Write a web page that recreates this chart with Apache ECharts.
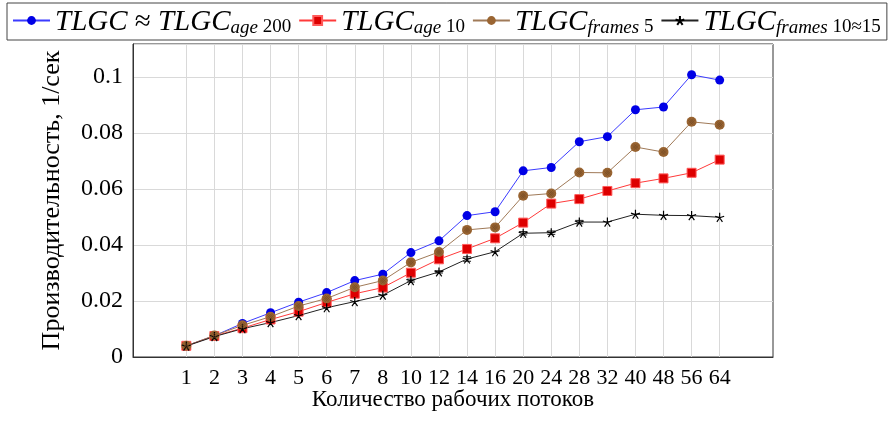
<!DOCTYPE html>
<html>
<head>
<meta charset="utf-8">
<script src="https://cdn.jsdelivr.net/npm/echarts@6/dist/echarts.min.js"></script>
<style>html,body{margin:0;padding:0;background:#fff}#c{width:888px;height:425px}</style>
</head>
<body>
<div id="c"></div>
<script>
const categories = ['1','2','3','4','5','6','7','8','10','12','14','16','20','24','28','32','40','48','56','64'];
const tlgcAge200 = [0.0040,0.0076,0.0120,0.0158,0.0196,0.0230,0.0273,0.0296,0.0373,0.0415,0.0505,0.0519,0.0665,0.0677,0.0769,0.0787,0.0883,0.0893,0.1008,0.0989];
const tlgcAge10 = [0.0040,0.0075,0.0103,0.0134,0.0162,0.0195,0.0226,0.0248,0.0301,0.0349,0.0386,0.0424,0.0480,0.0548,0.0564,0.0593,0.0621,0.0638,0.0658,0.0705];
const tlgcFrames5 = [0.0040,0.0077,0.0113,0.0144,0.0182,0.0209,0.0249,0.0273,0.0338,0.0375,0.0454,0.0463,0.0576,0.0584,0.0659,0.0658,0.0750,0.0732,0.0840,0.0830];
const tlgcFrames1015 = [0.0039,0.0073,0.0101,0.0123,0.0148,0.0176,0.0198,0.0221,0.0273,0.0304,0.0350,0.0376,0.0442,0.0444,0.0482,0.0482,0.0510,0.0506,0.0505,0.0499];
const errAge10 = [0,0,0,0,0,0,0,0,0,0,0,0,0,0,0,0.0005,0,0.0004,0.0013,0.0005];
const errFrames1015 = [0,0,0,0,0,0,0,0,0.0005,0.0004,0.0008,0,0.0006,0.0006,0.0006,0,0,0,0,0];
const yTicks = [0,0.02,0.04,0.06,0.08,0.1];
const seriesNames = ['age200','age10','frames5','frames1015'];

const SERIF = '"Liberation Serif", "DejaVu Serif", serif';
const toPts = arr => arr.map((v,i)=>[i,v]);
const starPath5 = 'path://M0,0L0,-5M0,0L4.76,-1.55M0,0L2.94,4.05M0,0L-2.94,4.05M0,0L-4.76,-1.55';
const hatchPath = 'path://M-4,-2L2,4M-3,-3L3,3M-2,-4L4,2M-4,2L2,-4M-3,3L3,-3M-2,4L4,-2';

function errSeries(vals, errs, color){
  return {
    type:'custom', silent:true, z:4,
    data: vals.map((v,i)=>[i,v,errs[i]]).filter(d=>d[2]>0),
    renderItem(params, api){
      const x=api.value(0), v=api.value(1), e=api.value(2);
      const lo=api.coord([x,v-e]), hi=api.coord([x,v+e]);
      const st={stroke:color, lineWidth:1};
      return {type:'group', children:[
        {type:'line', shape:{x1:lo[0],y1:lo[1],x2:hi[0],y2:hi[1]}, style:st},
        {type:'line', shape:{x1:lo[0]-4,y1:lo[1],x2:lo[0]+4,y2:lo[1]}, style:st},
        {type:'line', shape:{x1:hi[0]-4,y1:hi[1],x2:hi[0]+4,y2:hi[1]}, style:st}
      ]};
    }
  };
}

const rich = {
  m:{fontFamily:SERIF, fontStyle:'italic', fontSize:29, lineHeight:33, verticalAlign:'bottom', color:'#000'},
  r:{fontFamily:SERIF, fontSize:29, lineHeight:33, verticalAlign:'bottom', color:'#000'},
  s:{fontFamily:SERIF, fontStyle:'italic', fontSize:19, lineHeight:14, verticalAlign:'bottom', color:'#000'},
  n:{fontFamily:SERIF, fontSize:19, lineHeight:14, verticalAlign:'bottom', color:'#000'}
};
const legendText = {
  age200:'{m|TLGC }{r|≈}{m| TLGC}{s|age }{n|200}',
  age10:'{m|TLGC}{s|age }{n|10}',
  frames5:'{m|TLGC}{s|frames }{n|5}',
  frames1015:'{m|TLGC}{s|frames }{n|10≈15}'
};

const chart = echarts.init(document.getElementById('c'), null, {renderer:'canvas'});
chart.setOption({
  animation:false,
  backgroundColor:'#fff',
  legend:{
    data:seriesNames,
    left:7, top:3,
    padding:[5,6,3,5],
    itemGap:7,
    itemWidth:37, itemHeight:11,
    borderColor:'#444', borderWidth:1,
    formatter: n => legendText[n],
    textStyle:{rich}
  },
  grid:{left:133, right:115, top:44, bottom:68, show:true, borderColor:'#333', borderWidth:1, containLabel:false},
  xAxis:{
    type:'value', min:-1.9, max:20.9,
    name:'Количество рабочих потоков', nameLocation:'middle', nameGap:31, nameMoveOverlap:false,
    nameTextStyle:{fontFamily:SERIF, fontSize:23, color:'#000'},
    axisLine:{show:true, onZero:false, lineStyle:{color:'#333'}},
    axisTick:{show:false, customValues:categories.map((c,i)=>i)},
    axisLabel:{customValues:categories.map((c,i)=>i), formatter:v=>categories[Math.round(v)], fontFamily:SERIF, fontSize:22, color:'#000', margin:10},
    splitLine:{show:true, lineStyle:{color:'#d9d9d9', width:1}}
  },
  yAxis:{
    type:'value', min:0, max:0.1118, interval:0.02,
    name:'Производительность, 1/сек', nameLocation:'middle', nameRotate:90, nameGap:68, nameMoveOverlap:false,
    nameTextStyle:{fontFamily:SERIF, fontSize:26, color:'#000'},
    axisLine:{show:true, onZero:false, lineStyle:{color:'#333'}},
    axisTick:{show:false},
    axisLabel:{fontFamily:SERIF, fontSize:24, color:'#000', margin:10, showMaxLabel:false,
      formatter:v=>{const r=parseFloat(v.toFixed(3)); return yTicks.includes(r)? String(r):'';}},
    splitLine:{show:true, lineStyle:{color:'#d9d9d9', width:1}}
  },
  series:[
    {name:'age200', type:'line', data:toPts(tlgcAge200), symbol:'circle', symbolSize:9, z:5,
      lineStyle:{color:'#3b3bff', width:1}, itemStyle:{color:'#0000e6'}},
    {name:'age10', type:'line', data:toPts(tlgcAge10), symbol:'rect', symbolSize:9, z:5,
      lineStyle:{color:'#ff3a3a', width:1}, itemStyle:{color:'#dd0000', borderColor:'#ff5a5a', borderWidth:1}},
    errSeries(tlgcAge10, errAge10, '#ff3a3a'),
    {name:'frames5', type:'line', data:toPts(tlgcFrames5), symbol:'circle', symbolSize:10, z:5,
      lineStyle:{color:'#a07a58', width:1}, itemStyle:{color:'#9a6532'}},
    {type:'scatter', data:toPts(tlgcFrames5), symbol:hatchPath, symbolSize:7, z:6, silent:true,
      itemStyle:{color:'none', borderColor:'#6e4622', borderWidth:0.6}},
    {name:'frames1015', type:'line', data:toPts(tlgcFrames1015), symbol:starPath5, symbolSize:9, z:5,
      lineStyle:{color:'#222', width:1}, itemStyle:{color:'none', borderColor:'#000', borderWidth:1.2}},
    errSeries(tlgcFrames1015, errFrames1015, '#222')
  ]
});
</script>
</body>
</html>
